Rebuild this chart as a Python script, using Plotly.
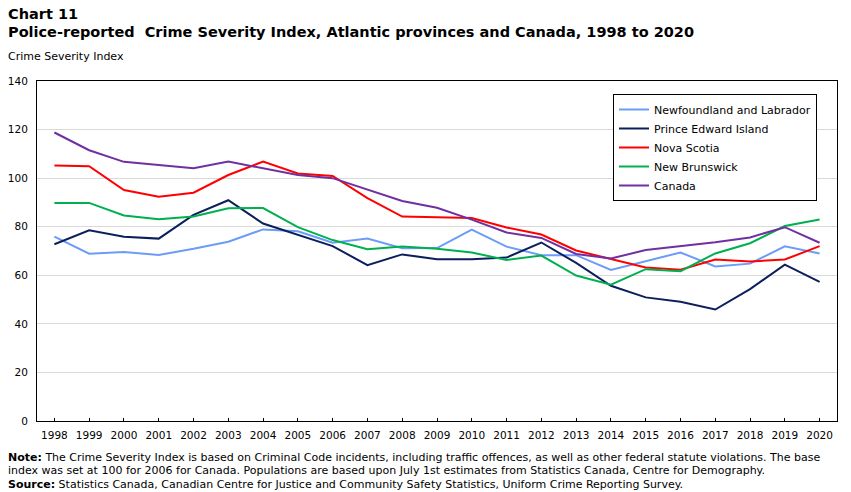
import plotly.graph_objects as go

years = [str(y) for y in range(1998, 2021)]

nl = [75.9, 68.9, 69.6, 68.4, 70.9, 73.8, 78.9, 78.1, 73.4, 75.1, 71.1, 71.2, 78.8, 71.8, 68.3, 68.3, 62.2, 65.7, 69.4, 63.6, 64.8, 71.9, 69.0]
pei = [72.8, 78.5, 75.9, 75.1, 84.9, 90.9, 81.3, 76.7, 72.0, 64.2, 68.6, 66.6, 66.6, 67.3, 73.5, 65.1, 55.7, 50.9, 49.1, 45.9, 54.3, 64.4, 57.3]
ns = [105.2, 104.9, 95.1, 92.3, 94.0, 101.3, 106.8, 101.9, 100.9, 91.8, 84.2, 83.9, 83.6, 79.7, 76.8, 70.2, 66.8, 63.2, 62.3, 66.5, 65.7, 66.5, 72.0]
nb = [89.8, 89.8, 84.6, 83.1, 84.2, 87.6, 87.7, 79.8, 74.5, 70.7, 71.9, 70.9, 69.4, 66.3, 68.1, 59.9, 56.1, 62.5, 61.7, 69.0, 73.2, 80.3, 83.0]
canada = [118.8, 111.5, 106.7, 105.3, 104.1, 106.8, 104.1, 101.3, 100.0, 95.3, 90.6, 87.8, 82.9, 77.6, 75.4, 68.8, 66.9, 70.4, 72.0, 73.6, 75.6, 79.8, 73.4]

series_names = ["Newfoundland and Labrador", "Prince Edward Island", "Nova Scotia", "New Brunswick", "Canada"]
series_values = [nl, pei, ns, nb, canada]
series_colors = ["#6C9CF8", "#0B1F5C", "#FF0000", "#00B050", "#7030A0"]

y_ticks = [0, 20, 40, 60, 80, 100, 120, 140]

title_lines = ["<b>Chart 11</b>",
               "<b>Police-reported\u00a0 Crime Severity Index, Atlantic provinces and Canada, 1998 to 2020</b>"]
y_title = "Crime Severity Index"
note_lines = ["<b>Note:</b> The Crime Severity Index is based on Criminal Code incidents, including traffic offences, as well as other federal statute violations. The base",
              "index was set at 100 for 2006 for Canada. Populations are based upon July 1st estimates from Statistics Canada, Centre for Demography.",
              "<b>Source:</b> Statistics Canada, Canadian Centre for Justice and Community Safety Statistics, Uniform Crime Reporting Survey."]

FONT = "DejaVu Sans"

fig = go.Figure()
for name, vals, col in zip(series_names, series_values, series_colors):
    fig.add_trace(go.Scatter(x=years, y=vals, mode="lines", name=name,
                             line=dict(color=col, width=2)))

W, H = 851, 492
ml, mr, mt, mb = 37, 14, 81, 71
pw = W - ml - mr
ph = H - mt - mb

def px2paper_x(px):
    return (px - ml) / pw

def py2paper_y(py):
    return (H - mb - py) / ph

annotations = []
for i, (t, yc) in enumerate(zip(title_lines, [14, 32])):
    annotations.append(dict(text=t, xref="paper", yref="paper", x=px2paper_x(6), y=py2paper_y(yc),
                            xanchor="left", yanchor="middle", showarrow=False,
                            font=dict(family=FONT, size=14.5, color="#000000")))
annotations.append(dict(text=y_title, xref="paper", yref="paper", x=px2paper_x(6), y=py2paper_y(56),
                        xanchor="left", yanchor="middle", showarrow=False,
                        font=dict(family=FONT, size=11, color="#000000")))
for t, yc in zip(note_lines, [457, 470.5, 484]):
    annotations.append(dict(text=t, xref="paper", yref="paper", x=px2paper_x(6), y=py2paper_y(yc),
                            xanchor="left", yanchor="middle", showarrow=False, align="left",
                            font=dict(family=FONT, size=11, color="#000000")))

fig.update_layout(
    width=W, height=H,
    margin=dict(l=ml, r=mr, t=mt, b=mb, autoexpand=False),
    paper_bgcolor="white", plot_bgcolor="white",
    font=dict(family=FONT, size=11, color="#000000"),
    showlegend=True,
    legend=dict(x=px2paper_x(613), y=py2paper_y(94), xanchor="left", yanchor="top",
                bordercolor="#000000", borderwidth=1, bgcolor="white",
                font=dict(family=FONT, size=11, color="#000000"),
                tracegroupgap=0),
    xaxis=dict(type="category", range=[-0.5, len(years) - 0.5], automargin=False,
               showline=True, linecolor="#000000", linewidth=1, mirror=True,
               ticks="inside", ticklen=3, tickcolor="#000000",
               ticklabelstandoff=4,
               showgrid=False, tickfont=dict(family=FONT, size=10.5, color="#000000"),
               fixedrange=True),
    yaxis=dict(range=[0, 140], tickvals=y_ticks, ticktext=[str(v) for v in y_ticks],
               automargin=False,
               showline=True, linecolor="#000000", linewidth=1, mirror=True,
               showgrid=True, gridcolor="#D9D9D9", gridwidth=1, zeroline=False,
               ticks="outside", ticklen=6, tickcolor="rgba(0,0,0,0)",
               tickfont=dict(family=FONT, size=10.5, color="#000000"),
               fixedrange=True),
    annotations=annotations,
)

fig.write_html("out.html")
